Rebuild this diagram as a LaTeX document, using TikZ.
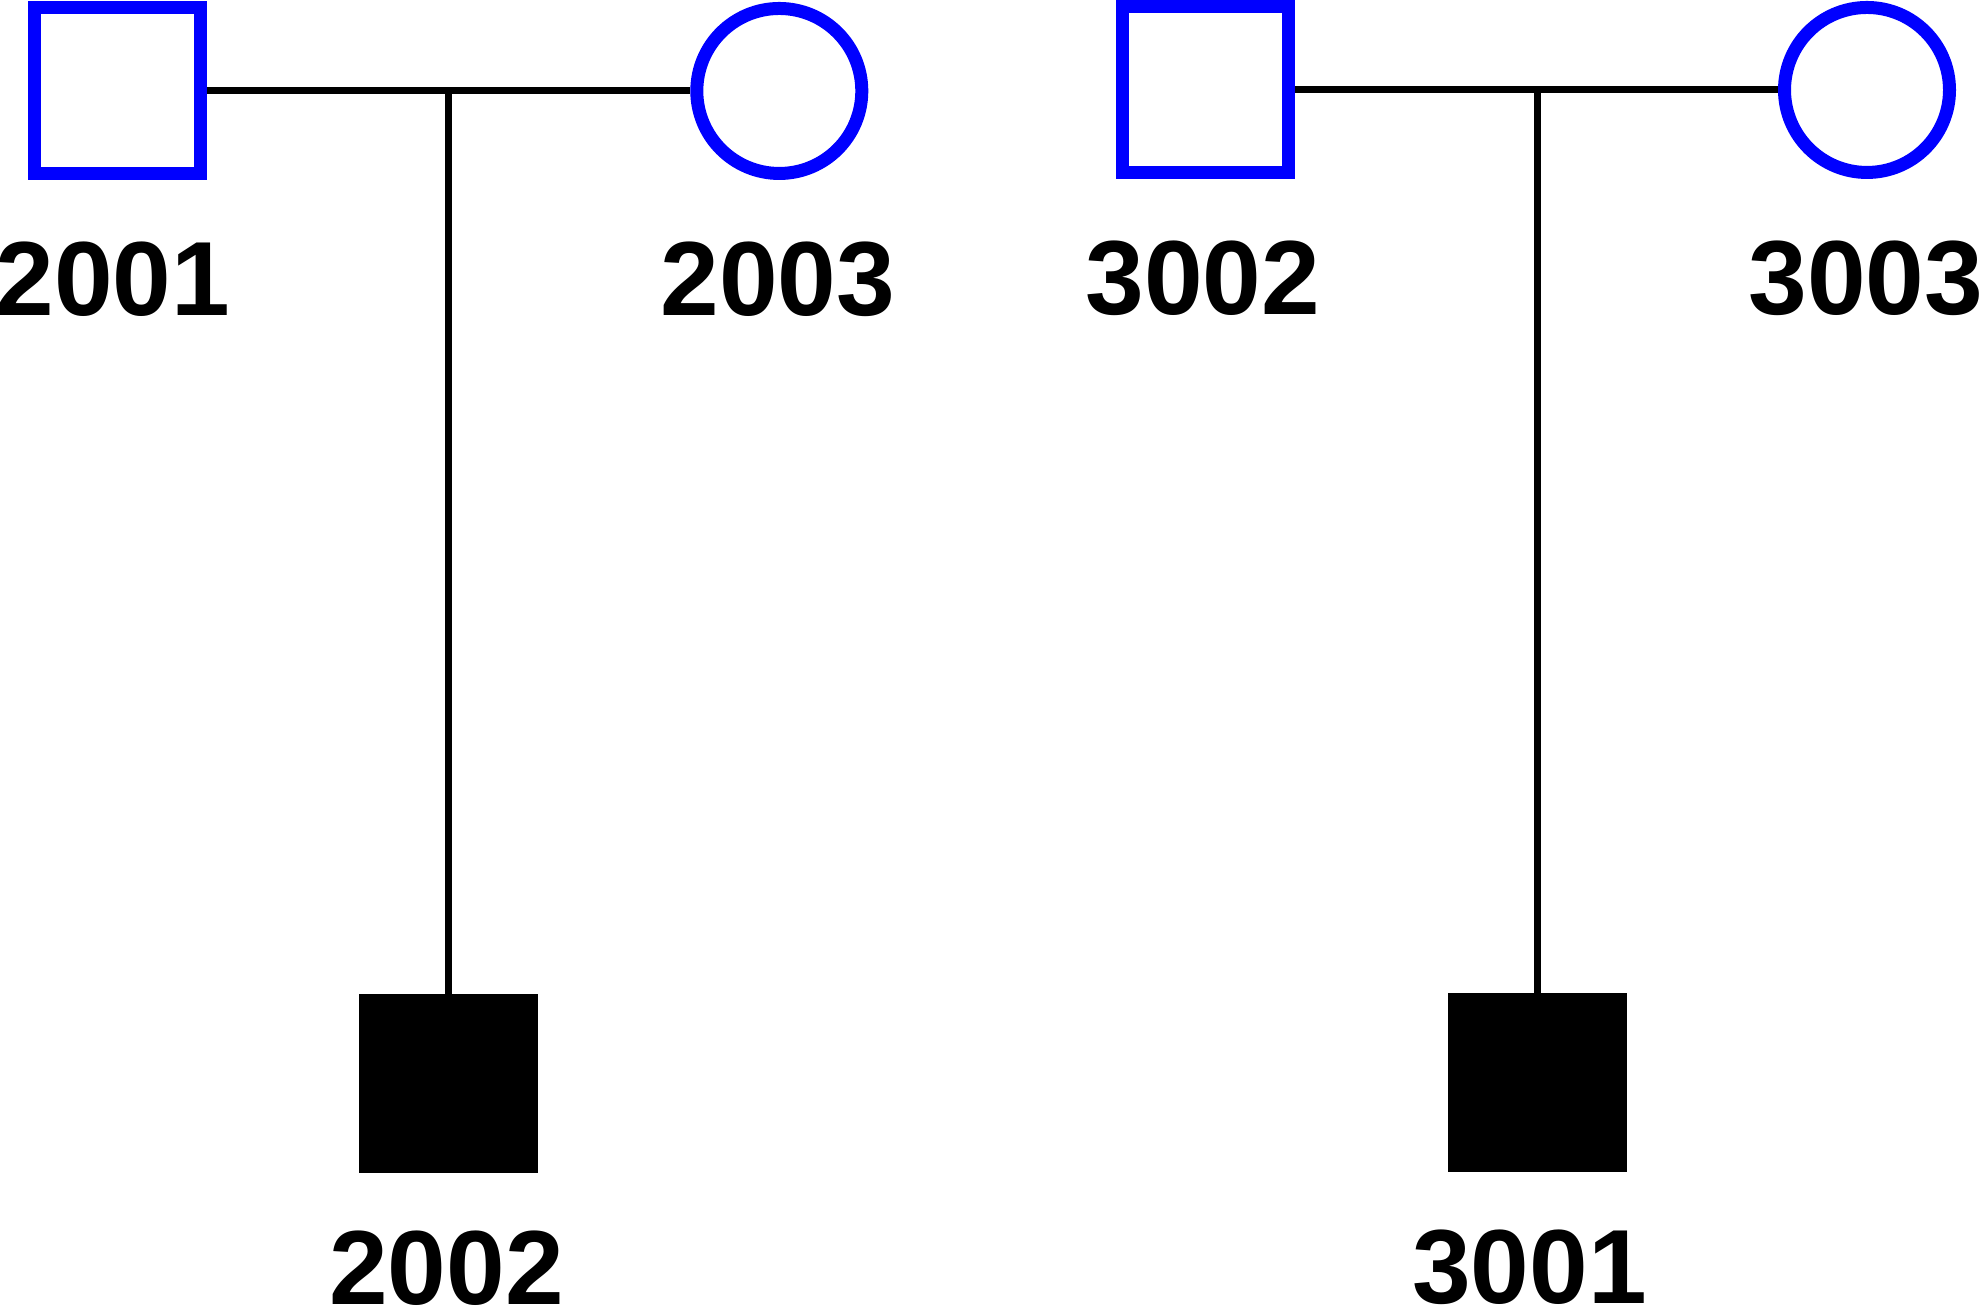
\documentclass[tikz,border=0pt]{standalone}
\usepackage{fontspec}
\setmainfont{Liberation Sans}
\usepackage{tikz}
\usetikzlibrary{positioning}
\definecolor{pedblue}{RGB}{0,0,255}

\begin{document}
\begin{tikzpicture}[
  male/.style={draw=pedblue, rectangle, minimum size=1.66cm, line width=0.13cm, inner sep=0pt},
  female/.style={draw=pedblue, circle, minimum size=1.65cm, line width=0.13cm, inner sep=0pt},
  affmale/.style={fill=black, rectangle, minimum size=1.79cm, inner sep=0pt, outer sep=0pt},
  idlbl/.style={anchor=base, inner sep=0pt, text depth=0pt, font=\bfseries\fontsize{30}{36}\selectfont},
  pedline/.style={line width=0.07cm},
]
\useasboundingbox (0,0) rectangle (19.80,13.09);

% ============ family 2000 ============
\node[male] (p2001) at (1.177,12.18) {};
\node[female] (p2003) at (7.793,12.18) {};
\node[affmale] (p2002) at (4.485,2.255) {};

\node[idlbl] (l2001) at (1.13,9.93) {2001};
\node[idlbl] (l2003) at (7.78,9.93) {2003};
\node[idlbl] (l2002) at (4.465,0.04) {2002};

% ============ family 3000 ============
\node[male] (p3002) at (12.057,12.19) {};
\node[female] (p3003) at (18.67,12.19) {};
\node[affmale] (p3001) at (15.37,2.265) {};

\node[idlbl] (l3002) at (12.03,9.94) {3002};
\node[idlbl] (l3003) at (18.66,9.94) {3003};
\node[idlbl] (l3001) at (15.295,0.05) {3001};

% ===================== LINES =====================

% mating lines
\draw[pedline] (p2001.east) -- (p2003.west);
\draw[pedline] (p3002.east) -- (p3003.west);

% descent lines down to the child
\draw[pedline] (p2002.north) -- (p2002.north |- p2001.east);
\draw[pedline] (p3001.north) -- (p3001.north |- p3002.east);

\end{tikzpicture}
\end{document}
